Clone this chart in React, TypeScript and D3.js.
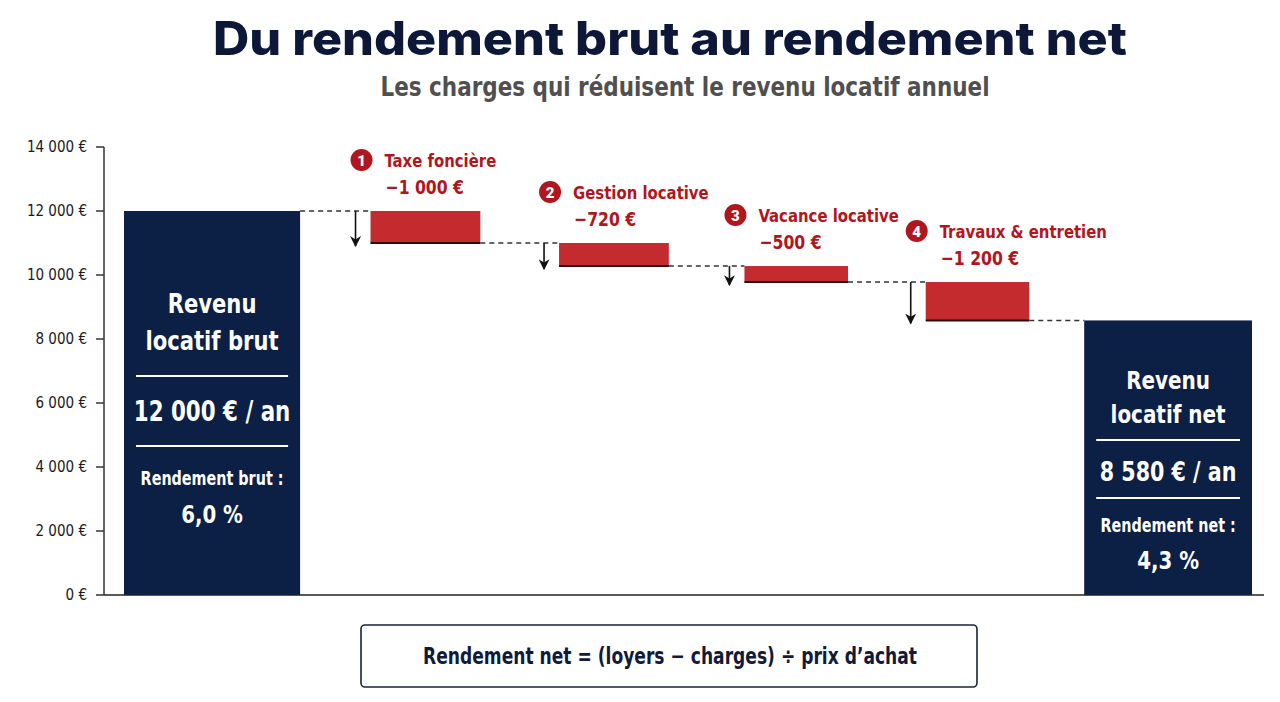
import React from "react";
import * as d3 from "d3";

// ---------- data ----------
const categories = ["Revenu locatif brut", "Taxe foncière", "Gestion locative", "Vacance locative", "Travaux & entretien", "Revenu locatif net"];
const kinds = ["total", "charge", "charge", "charge", "charge", "total"];
const amounts = [12000, -1000, -720, -500, -1200, 8580];
const chargeLabels = ["", "−1 000 €", "−720 €", "−500 €", "−1 200 €", ""];
const yTicks = [0, 2000, 4000, 6000, 8000, 10000, 12000, 14000];
const totalTitles = [["Revenu", "locatif brut"], ["Revenu", "locatif net"]];
const totalValues = ["12 000 € / an", "8 580 € / an"];
const yieldLabels = ["Rendement brut :", "Rendement net :"];
const yieldValues = ["6,0 %", "4,3 %"];

const TITLE = "Du rendement brut au rendement net";
const SUBTITLE = "Les charges qui réduisent le revenu locatif annuel";
const FORMULA = "Rendement net = (loyers − charges) ÷ prix d’achat";

// ---------- layout ----------
const W = 1280, H = 702;
const NAVY = "#0c1f45";
const RED = "#c42b2f";
const DARKRED = "#b0161d";
const COND = "'Liberation Sans Narrow', 'DejaVu Sans Condensed', 'Roboto Condensed', Roboto, sans-serif";
const barWeights = [1.7, 1.06, 1.06, 1.0, 1.0, 1.62];
const gapWeights = [0, 0.68, 0.76, 0.73, 0.75, 0.53];
// vertical offsets (px below bar top) for the text block inside each total bar
const totalTextOffsets = [
  [102, 139, 165, 210, 235, 274, 312],
  [68.5, 102.5, 119.5, 160.5, 177.5, 211.5, 248.5],
];
const totalTextSizes = [
  [27, 28, 19, 25],
  [25.5, 27, 19, 25],
];

type CTProps = { x: number; y: number; sx: number; anchor?: string; size: number; weight?: number; fill?: string; children: React.ReactNode };
function CT({ x, y, sx, anchor = "start", size, weight = 700, fill = "#fff", children }: CTProps) {
  return (
    <text transform={`translate(${x},${y}) scale(${sx},1)`} textAnchor={anchor} fontFamily={COND} fontWeight={weight} fontSize={size} fill={fill}>
      {children}
    </text>
  );
}

export default function App() {
  const y = d3.scaleLinear().domain([0, 14000]).range([595, 147]);

  let acc = 0;
  const units = categories.map((_, i) => {
    acc += gapWeights[i];
    const start = acc;
    acc += barWeights[i];
    return { start, end: acc };
  });
  const x = d3.scaleLinear().domain([0, acc]).range([124, 1252]);

  let level = 0;
  const bars = categories.map((c, i) => {
    let from: number, to: number;
    if (kinds[i] === "total") {
      from = 0; to = amounts[i]; level = amounts[i];
    } else {
      from = level; to = level + amounts[i]; level = to;
    }
    return { c, i, kind: kinds[i], from, to, x0: x(units[i].start), x1: x(units[i].end) };
  });

  return (
    <svg width={W} height={H} style={{ position: "absolute", left: 0, top: 0, background: "#fff" }}>
      <defs>
        <marker id="ah" viewBox="0 0 10 10" refX="9" refY="5" markerWidth="11" markerHeight="11" markerUnits="userSpaceOnUse" orient="auto">
          <path d="M0,0 L10,5 L0,10 L3,5 Z" fill="#111" />
        </marker>
      </defs>
      <rect width={W} height={H} fill="#fff" />

      {/* titles */}
      <text x={670} y={55} textAnchor="middle" fontFamily="Inter, Lato, sans-serif" fontWeight={800} fontSize={46} fill="#0d1838" textLength={914} lengthAdjust="spacingAndGlyphs">{TITLE}</text>
      <text x={685} y={96} textAnchor="middle" fontFamily={COND} fontWeight={700} fontSize={27} fill="#505050" textLength={609} lengthAdjust="spacingAndGlyphs">{SUBTITLE}</text>

      {/* axes */}
      <line x1={104} x2={104} y1={y(14000)} y2={y(0)} stroke="#333" strokeWidth={1.5} />
      <line x1={104} x2={1264} y1={y(0)} y2={y(0)} stroke="#222" strokeWidth={1.5} />
      {yTicks.map((t) => (
        <g key={t}>
          <line x1={96} x2={104} y1={y(t)} y2={y(t)} stroke="#333" strokeWidth={1.5} />
          <text x={87} y={y(t) + 5} textAnchor="end" fontFamily={COND} fontSize={15} fill="#1a1a1a">
            {t === 0 ? "0 €" : d3.format(",")(t).replace(",", " ") + " €"}
          </text>
        </g>
      ))}

      {/* connectors */}
      {bars.slice(1).map((b, k) => {
        const prev = bars[k];
        return (
          <line key={"d" + k} x1={prev.x1} x2={b.x0} y1={y(prev.to)} y2={y(prev.to)} stroke="#333" strokeWidth={1.5} strokeDasharray="5 4" />
        );
      })}
      {/* arrows */}
      {bars.filter((b) => b.kind === "charge").map((b) => (
        <line key={"a" + b.i} x1={b.x0 - 15} x2={b.x0 - 15} y1={y(b.from)} y2={y(b.to) + 3} stroke="#111" strokeWidth={1.6} markerEnd="url(#ah)" />
      ))}

      {/* bars */}
      {bars.map((b) =>
        b.kind === "total" ? (
          <rect key={b.c} x={b.x0} y={y(b.to)} width={b.x1 - b.x0} height={y(0) - y(b.to)} fill={NAVY} />
        ) : (
          <g key={b.c}>
            <rect x={b.x0} y={y(b.from)} width={b.x1 - b.x0} height={y(b.to) - y(b.from)} fill={RED} />
            <line x1={b.x0} x2={b.x1} y1={y(b.to)} y2={y(b.to)} stroke="#2a0a0a" strokeWidth={2} />
          </g>
        )
      )}

      {/* charge labels */}
      {bars.filter((b) => b.kind === "charge").map((b, k) => {
        const top = y(b.from);
        return (
          <g key={"l" + b.i}>
            <circle cx={b.x0 - 9} cy={top - 51} r={11} fill={DARKRED} />
            <text x={b.x0 - 9} y={top - 45.5} textAnchor="middle" fontFamily="Roboto, sans-serif" fontWeight={900} fontSize={15} fill="#fff">{k + 1}</text>
            <CT x={b.x0 + 14} y={top - 44} sx={0.92} size={18} weight={700} fill={DARKRED}>{b.c}</CT>
            <CT x={b.x0 + 15} y={top - 17} sx={0.87} size={20} weight={700} fill={DARKRED}>{chargeLabels[b.i]}</CT>
          </g>
        );
      })}

      {/* total bar texts */}
      {bars.filter((b) => b.kind === "total").map((b, k) => {
        const cx = (b.x0 + b.x1) / 2;
        const top = y(b.to);
        const [o1, o2, o3, o4, o5, o6, o7] = totalTextOffsets[k];
        const [s1, s2, s3, s4] = totalTextSizes[k];
        const pad = 12;
        return (
          <g key={"t" + b.i}>
            <CT x={cx} y={top + o1} sx={0.87} size={s1} anchor="middle">{totalTitles[k][0]}</CT>
            <CT x={cx} y={top + o2} sx={0.87} size={s1} anchor="middle">{totalTitles[k][1]}</CT>
            <line x1={b.x0 + pad} x2={b.x1 - pad} y1={top + o3} y2={top + o3} stroke="#fff" strokeWidth={2} />
            <CT x={cx} y={top + o4} sx={0.85} size={s2} anchor="middle">{totalValues[k]}</CT>
            <line x1={b.x0 + pad} x2={b.x1 - pad} y1={top + o5} y2={top + o5} stroke="#fff" strokeWidth={2} />
            <CT x={cx} y={top + o6} sx={0.84} size={s3} anchor="middle">{yieldLabels[k]}</CT>
            <CT x={cx} y={top + o7} sx={0.88} size={s4} anchor="middle">{yieldValues[k]}</CT>
          </g>
        );
      })}

      {/* formula box */}
      <rect x={361} y={625} width={616} height={62} rx={4} fill="#fff" stroke="#1c2236" strokeWidth={1.6} />
      <text x={670} y={664} textAnchor="middle" fontFamily={COND} fontWeight={700} fontSize={23} fill="#121a38" textLength={494} lengthAdjust="spacingAndGlyphs">{FORMULA}</text>
    </svg>
  );
}
